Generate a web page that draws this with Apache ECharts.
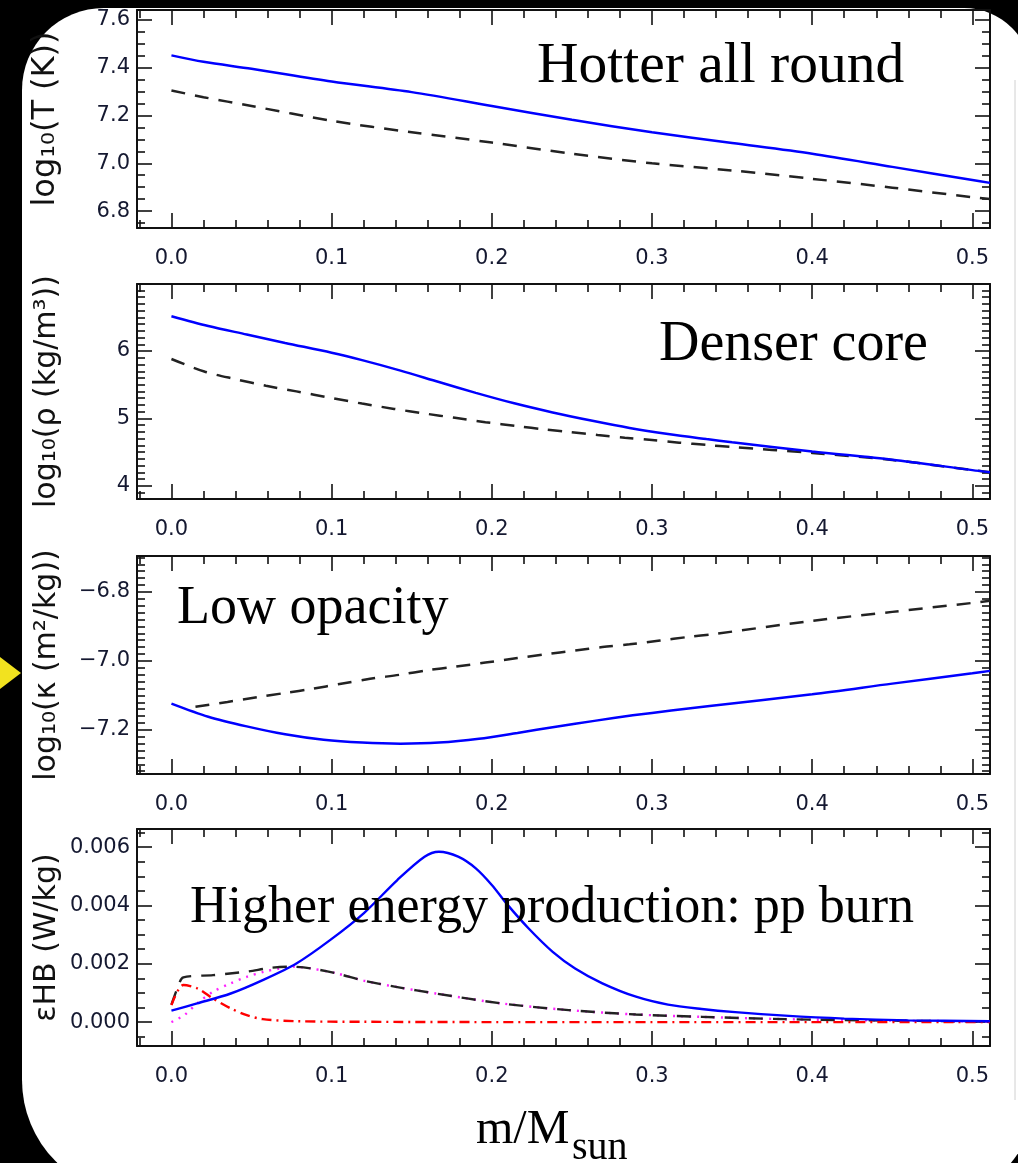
<!DOCTYPE html>
<html><head><meta charset="utf-8">
<script src="https://cdn.jsdelivr.net/npm/echarts@6/dist/echarts.min.js"></script>
<style>html,body{margin:0;padding:0;background:#000}#c{width:1018px;height:1163px}</style>
</head><body><div id="c"></div>
<script>
// ---------- data ----------
const tempBlueM = [0, 0.02, 0.05, 0.1, 0.15, 0.2, 0.25, 0.3, 0.35, 0.4, 0.45, 0.5, 0.511];
const tempBlue  = [7.452, 7.425, 7.396, 7.343, 7.298, 7.240, 7.182, 7.13, 7.085, 7.04, 6.985, 6.93, 6.918];
const tempDashM = [0, 0.02, 0.05, 0.1, 0.15, 0.2, 0.25, 0.3, 0.35, 0.4, 0.45, 0.5, 0.511];
const tempDash  = [7.305, 7.277, 7.24, 7.178, 7.13, 7.087, 7.04, 7.0, 6.97, 6.935, 6.898, 6.858, 6.85];

const rhoBlueM = [0, 0.023, 0.047, 0.071, 0.1, 0.119, 0.143, 0.167, 0.19, 0.214, 0.238, 0.262, 0.286, 0.31, 0.334, 0.35, 0.4, 0.45, 0.5, 0.511];
const rhoBlue  = [6.515, 6.37, 6.245, 6.12, 5.975, 5.865, 5.71, 5.54, 5.38, 5.225, 5.09, 4.97, 4.86, 4.77, 4.695, 4.648, 4.51, 4.39, 4.235, 4.205];
const rhoDashM = [0, 0.0205, 0.04, 0.059, 0.078, 0.1, 0.119, 0.139, 0.158, 0.177, 0.196, 0.216, 0.233, 0.249, 0.266, 0.283, 0.3, 0.317, 0.334, 0.35, 0.4, 0.45, 0.5, 0.511];
const rhoDash  = [5.882, 5.696, 5.583, 5.485, 5.402, 5.304, 5.221, 5.142, 5.074, 5.01, 4.946, 4.887, 4.838, 4.799, 4.755, 4.716, 4.681, 4.642, 4.608, 4.578, 4.49, 4.385, 4.235, 4.205];

const kapBlueM = [0, 0.023, 0.047, 0.071, 0.095, 0.119, 0.143, 0.167, 0.192, 0.216, 0.24, 0.264, 0.288, 0.312, 0.336, 0.4, 0.45, 0.5, 0.511];
const kapBlue  = [-7.124, -7.162, -7.19, -7.213, -7.229, -7.237, -7.24, -7.237, -7.226, -7.209, -7.191, -7.174, -7.158, -7.144, -7.131, -7.097, -7.066, -7.036, -7.029];
const kapDashM = [0.015, 0.035, 0.054, 0.071, 0.088, 0.105, 0.124, 0.143, 0.16, 0.177, 0.196, 0.216, 0.233, 0.252, 0.269, 0.286, 0.305, 0.322, 0.339, 0.4, 0.45, 0.5, 0.511];
const kapDash  = [-7.133, -7.119, -7.105, -7.093, -7.081, -7.067, -7.052, -7.04, -7.027, -7.017, -7.005, -6.992, -6.981, -6.97, -6.96, -6.952, -6.941, -6.931, -6.922, -6.884, -6.858, -6.832, -6.826];

const epsBlueM  = [0, 0.016, 0.037, 0.057, 0.078, 0.099, 0.12, 0.141, 0.158, 0.167, 0.179, 0.19, 0.2, 0.21, 0.223, 0.238, 0.252, 0.269, 0.29, 0.31, 0.331, 0.352, 0.383, 0.42, 0.46, 0.511];
const epsBlue   = [0.00039, 0.00064, 0.00098, 0.00144, 0.00201, 0.00281, 0.00373, 0.00487, 0.00567, 0.00584, 0.00567, 0.00527, 0.0047, 0.00401, 0.00321, 0.00241, 0.00184, 0.00133, 0.00087, 0.0006, 0.00045, 0.00034, 0.00022, 0.00012, 0.00006, 0.00003];
const epsTotalM = [0, 0.004, 0.0074, 0.026, 0.047, 0.062, 0.074, 0.087, 0.103, 0.12, 0.141, 0.165, 0.206, 0.248, 0.29, 0.331, 0.383, 0.45, 0.511];
const epsTotal  = [0.0006, 0.0012, 0.00153, 0.00161, 0.00173, 0.00186, 0.0019, 0.00184, 0.00167, 0.00142, 0.0012, 0.00098, 0.00064, 0.00041, 0.00026, 0.00018, 0.0001, 0.00005, 0.00002];
const epsPpM    = [0, 0.008, 0.016, 0.026, 0.037, 0.047, 0.058, 0.068, 0.076, 0.087, 0.103, 0.12, 0.141, 0.165, 0.206, 0.248, 0.29, 0.331, 0.383, 0.45, 0.511];
const epsPp     = [0, 0.00024, 0.00064, 0.00104, 0.00133, 0.00155, 0.00173, 0.00184, 0.0019, 0.00184, 0.00167, 0.00142, 0.0012, 0.00098, 0.00064, 0.00041, 0.00026, 0.00018, 0.0001, 0.00005, 0.00002];
const epsCnoM   = [0, 0.0074, 0.016, 0.026, 0.037, 0.047, 0.057, 0.078, 0.12, 0.2, 0.3, 0.4, 0.511];
const epsCno    = [0.00058, 0.00127, 0.00116, 0.00081, 0.00047, 0.00024, 0.0001, 0.00003, 0.00001, 0, 0, 0, 0];

const yNames = ['log\u2081\u2080(T (K))', 'log\u2081\u2080(\u03c1 (kg/m\u00b3))', 'log\u2081\u2080(\u03ba (m\u00b2/kg))', '\u03b5HB (W/kg)'];
const annotations = ['Hotter all round', 'Denser core', 'Low opacity', 'Higher energy production: pp burn'];
const xTitleMain = 'm/M';
const xTitleSub = 'sun';

// ---------- layout / styling ----------
const X_MIN = -0.0215, X_MAX = 0.511;
const panels = [
  {top: 10,  height: 218, min: 6.729,   max: 7.642,   split: 5, minor: 4,  nameSize: 32, fmt: v => v.toFixed(1)},
  {top: 284, height: 215, min: 3.807,   max: 6.993,   split: 3, minor: 10, nameSize: 30, fmt: v => v.toFixed(0)},
  {top: 556, height: 218, min: -7.328,  max: -6.696,  split: 3, minor: 10, nameSize: 30, fmt: v => (v < 0 ? '\u2212' : '') + Math.abs(v).toFixed(1)},
  {top: 829, height: 217, min: -0.00082, max: 0.00662, split: 4, minor: 4, nameSize: 30, fmt: v => v.toFixed(3)}
];
const AX = '#111';
const LBL = '#141830';
const axLine = {show: true, onZero: false, lineStyle: {color: AX, width: 2}};
const axTick = {show: true, inside: true, length: 15, lineStyle: {color: AX, width: 1.6}};

const grids = [], xAxes = [], yAxes = [], series = [];
panels.forEach((p, gi) => {
  grids.push({left: 137, right: 28, top: p.top, height: p.height, containLabel: false, outerBoundsMode: 'none'});
  ['bottom', 'top'].forEach(pos => {
    xAxes.push({
      type: 'value', gridIndex: gi, position: pos, min: X_MIN, max: X_MAX, splitNumber: 5,
      axisLine: axLine, axisTick: axTick,
      minorTick: {show: true, splitNumber: 5, length: 8, lineStyle: {color: AX, width: 1.6}},
      splitLine: {show: false}, minorSplitLine: {show: false},
      axisLabel: pos === 'bottom' ? {
        show: true, fontFamily: 'DejaVu Sans', fontSize: 21, color: LBL, margin: 20,
        formatter: v => v.toFixed(1), showMinLabel: false, showMaxLabel: false
      } : {show: false}
    });
  });
  ['left', 'right'].forEach(pos => {
    yAxes.push({
      type: 'value', gridIndex: gi, position: pos, min: p.min, max: p.max, splitNumber: p.split,
      axisLine: axLine, axisTick: axTick,
      minorTick: {show: true, splitNumber: p.minor, length: 8, lineStyle: {color: AX, width: 1.6}},
      splitLine: {show: false}, minorSplitLine: {show: false},
      axisLabel: pos === 'left' ? {
        show: true, fontFamily: 'DejaVu Sans', fontSize: 21, color: LBL, margin: 7,
        formatter: p.fmt, showMinLabel: false, showMaxLabel: false
      } : {show: false},
      name: pos === 'left' ? yNames[gi] : '',
      nameLocation: 'middle', nameRotate: 90, nameGap: 75, nameMoveOverlap: false,
      nameTextStyle: {fontFamily: 'DejaVu Sans', fontSize: p.nameSize, color: '#111'}
    });
  });
});

function line(gi, xs, ys, color, type, width, z) {
  return {
    type: 'line', xAxisIndex: 2 * gi, yAxisIndex: 2 * gi,
    data: xs.map((x, i) => [x, ys[i]]),
    showSymbol: false, symbol: 'none', smooth: 0.3, silent: true, animation: false, z: z,
    lineStyle: {color: color, width: width, type: type}
  };
}
const DASH = [14, 10];
series.push(line(0, tempDashM, tempDash, '#222', DASH, 2.5, 3));
series.push(line(0, tempBlueM, tempBlue, '#0000ff', 'solid', 2.5, 4));
series.push(line(1, rhoDashM, rhoDash, '#222', DASH, 2.5, 3));
series.push(line(1, rhoBlueM, rhoBlue, '#0000ff', 'solid', 2.5, 4));
series.push(line(2, kapDashM, kapDash, '#222', DASH, 2.5, 3));
series.push(line(2, kapBlueM, kapBlue, '#0000ff', 'solid', 2.5, 4));
series.push(line(3, epsPpM, epsPp, '#ff22ff', [2, 6], 2.4, 2));
series.push(line(3, epsTotalM, epsTotal, '#222', DASH, 2.4, 3));
series.push(line(3, epsCnoM, epsCno, '#ff0000', [10, 5, 2, 5], 2.4, 3));
series.push(line(3, epsBlueM, epsBlue, '#0000ff', 'solid', 2.4, 4));

const serif = '"Liberation Serif", "DejaVu Serif", serif';
const graphic = [
  {type: 'rect', z: -10, silent: true, shape: {x: 22, y: 8, width: 1010, height: 1187, r: [82, 68, 90, 115]}, style: {fill: '#fff'}},
  {type: 'line', z: -9, silent: true, shape: {x1: 1015, y1: 80, x2: 1015, y2: 1100}, style: {stroke: '#d0d0d0', lineWidth: 1}},
  {type: 'polygon', z: 5, silent: true, shape: {points: [[0, 657], [0, 689], [21, 673]]}, style: {fill: '#f2e21f'}},
  {type: 'text', z: 20, silent: true, x: 537, y: 67, style: {text: annotations[0], fontFamily: serif, fontSize: 57.5, fill: '#000', verticalAlign: 'middle'}},
  {type: 'text', z: 20, silent: true, x: 659, y: 345, style: {text: annotations[1], fontFamily: serif, fontSize: 56, fill: '#000', verticalAlign: 'middle'}},
  {type: 'text', z: 20, silent: true, x: 177, y: 609, style: {text: annotations[2], fontFamily: serif, fontSize: 54, fill: '#000', verticalAlign: 'middle'}},
  {type: 'text', z: 20, silent: true, x: 190, y: 908, style: {text: annotations[3], fontFamily: serif, fontSize: 52, fill: '#000', verticalAlign: 'middle'}},
  {type: 'text', z: 20, silent: true, x: 476, y: 1130, style: {text: xTitleMain, fontFamily: serif, fontSize: 48, fill: '#000', verticalAlign: 'middle'}},
  {type: 'text', z: 20, silent: true, x: 572, y: 1148, style: {text: xTitleSub, fontFamily: serif, fontSize: 40, fill: '#000', verticalAlign: 'middle'}}
];

const chart = echarts.init(document.getElementById('c'), null, {renderer: 'canvas'});
chart.setOption({
  backgroundColor: '#000',
  animation: false,
  grid: grids, xAxis: xAxes, yAxis: yAxes, series: series, graphic: graphic
});
</script></body></html>
